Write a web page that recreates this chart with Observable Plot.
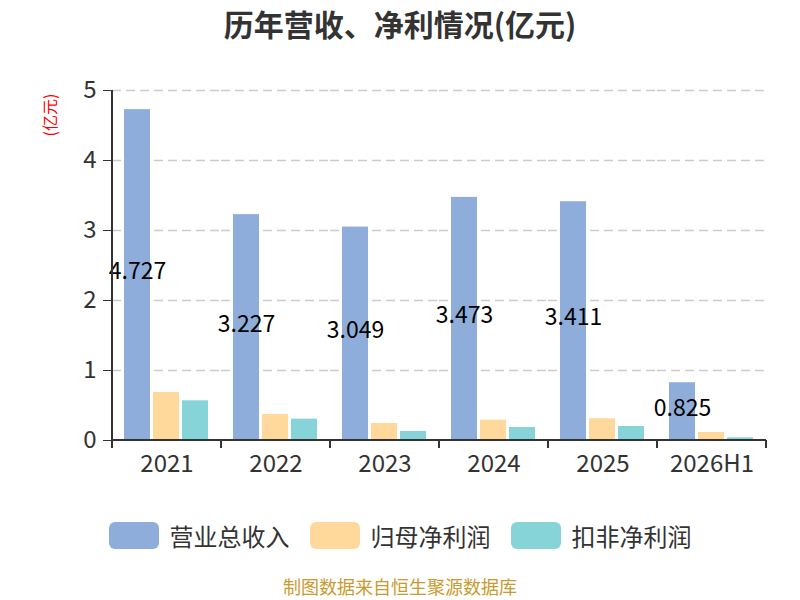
<!DOCTYPE html>
<html>
<head>
<meta charset="utf-8">
<script src="https://cdn.jsdelivr.net/npm/d3@7"></script>
<script src="https://cdn.jsdelivr.net/npm/@observablehq/plot@0.6"></script>
<style>
  html, body { margin: 0; padding: 0; background: #fff; }
  body { width: 800px; height: 600px; position: relative; overflow: hidden;
         font-family: "Noto Sans CJK SC", "Noto Sans", sans-serif; }
  #title { position: absolute; top: 4px; left: 0; width: 800px; text-align: center;
           font-size: 30px; font-weight: bold; color: #333; line-height: 38px; }
  #ylabel { position: absolute; left: 49px; top: 115px; transform: translate(-50%, -50%) rotate(-90deg);
            color: red; font-size: 16px; white-space: nowrap; line-height: 18px; }
  #chart { position: absolute; top: 0; left: 0; }
  #legend { position: absolute; top: 522px; left: 0; width: 800px; display: flex;
            justify-content: center; align-items: center; }
  .item { display: flex; align-items: center; margin: 0 10px; }
  .sw { width: 50px; height: 27px; border-radius: 6px; margin-right: 11px; }
  .lab { font-size: 24px; color: #333; line-height: 27px; }
  #footer { position: absolute; top: 576px; left: 0; width: 800px; text-align: center;
            font-size: 18px; color: #c99a2e; line-height: 20px; }
</style>
</head>
<body>
<div id="title">历年营收、净利情况(亿元)</div>
<div id="chart"></div>
<div id="ylabel">(亿元)</div>
<div id="legend"></div>
<div id="footer">制图数据来自恒生聚源数据库</div>
<script>
const years = ["2021", "2022", "2023", "2024", "2025", "2026H1"];
const series = ["营业总收入", "归母净利润", "扣非净利润"];
const colors = ["#8eaddb", "#ffd99b", "#86d4d8"];
const revenue = [4.727, 3.227, 3.049, 3.473, 3.411, 0.825];
const netProfit = [0.686, 0.371, 0.243, 0.290, 0.310, 0.114];
const deductedProfit = [0.567, 0.305, 0.129, 0.186, 0.200, 0.038];
const yTicks = [0, 1, 2, 3, 4, 5];

const valuesBySeries = [revenue, netProfit, deductedProfit];
const rows = [];
years.forEach((y, i) => {
  series.forEach((s, j) => rows.push({year: y, series: s, value: valuesBySeries[j][i]}));
});
const revRows = rows.filter(d => d.series === series[0]);

const font = "'Noto Sans CJK SC', 'Noto Sans', sans-serif";

const plot = Plot.plot({
  width: 800,
  height: 480,
  marginTop: 90,
  marginBottom: 40,
  marginLeft: 110,
  marginRight: 32,
  style: {fontFamily: font, background: "transparent", overflow: "visible"},
  fx: {domain: years, padding: 0, label: null},
  x: {domain: series, paddingInner: 0.1, paddingOuter: 0.38, axis: null},
  y: {domain: [0, 5], label: null, axis: null},
  color: {domain: series, range: colors},
  marks: [
    Plot.gridY(yTicks.filter(t => t > 0), {stroke: "#ccc", strokeOpacity: 1, strokeWidth: 1.5, strokeDasharray: "9,5"}),
    Plot.barY(rows, {fx: "year", x: "series", y: "value", fill: "series"}),
    Plot.text(revRows, {fx: "year", x: "series", y: d => d.value / 2, text: d => d.value.toFixed(3),
      fontSize: 23, fill: "black", dy: -3}),
    Plot.axisY({ticks: yTicks, tickSize: 9, tickPadding: 7, fontSize: 24, color: "#333", tickFormat: d => String(d)}),
    Plot.axisFx({anchor: "bottom", tickSize: 0, tickPadding: 14, fontSize: 24, color: "#333", label: null})
  ]
});

document.getElementById("chart").appendChild(plot);

// axis lines and category boundary ticks, positioned from Plot's scales
const svg = d3.select(plot.tagName.toLowerCase() === "svg" ? plot : plot.querySelector("svg"));
const fx = plot.scale("fx");
const ys = plot.scale("y");
const y0 = ys.apply(0), y5 = ys.apply(5);
const left = fx.apply(years[0]);
const right = fx.apply(years[years.length - 1]) + fx.bandwidth;
const g = svg.append("g").attr("stroke", "#333").attr("stroke-width", 2);
g.append("line").attr("x1", left).attr("x2", left).attr("y1", y5).attr("y2", y0);
g.append("line").attr("x1", left).attr("x2", right).attr("y1", y0).attr("y2", y0);
const edges = years.map(y => fx.apply(y)).concat([right]);
edges.forEach(x => g.append("line").attr("x1", x).attr("x2", x).attr("y1", y0).attr("y2", y0 + 8));

// legend
const legend = document.getElementById("legend");
series.forEach((s, i) => {
  const it = document.createElement("div");
  it.className = "item";
  it.innerHTML = `<div class="sw" style="background:${colors[i]}"></div><div class="lab">${s}</div>`;
  legend.appendChild(it);
});
</script>
</body>
</html>
